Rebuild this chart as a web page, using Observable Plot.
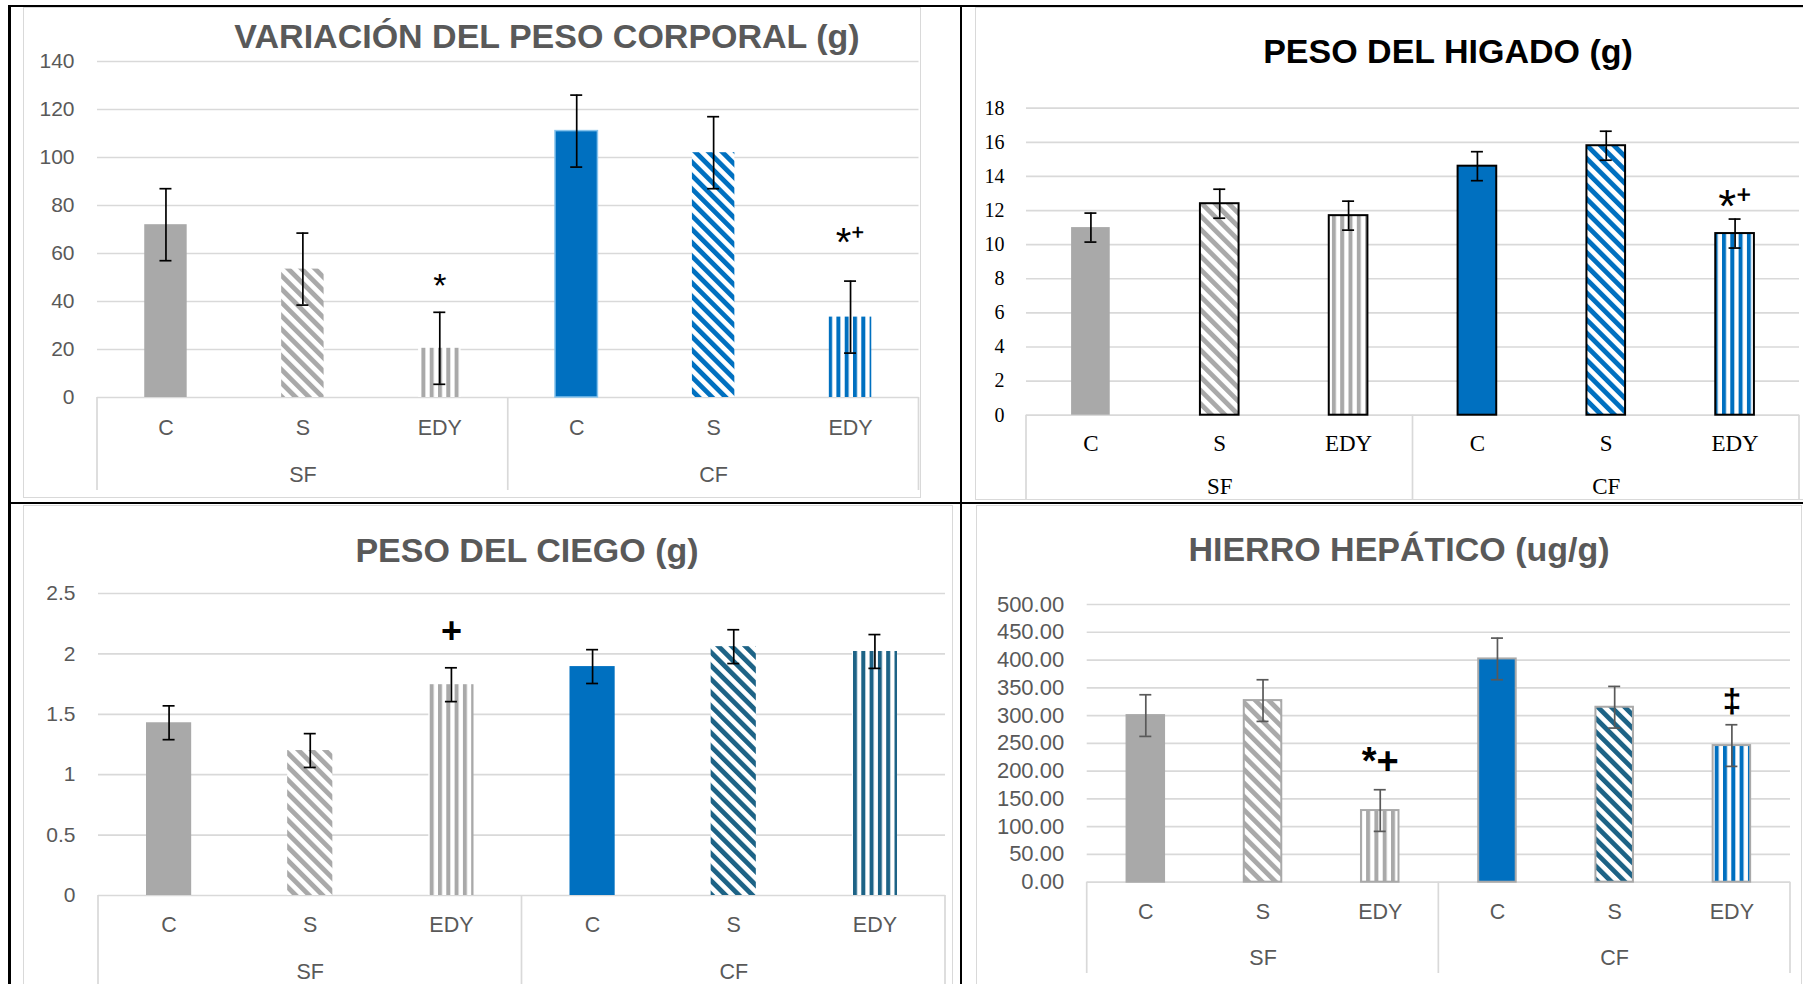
<!DOCTYPE html>
<html><head><meta charset="utf-8">
<script src="https://cdn.jsdelivr.net/npm/d3@7"></script>
<script src="https://cdn.jsdelivr.net/npm/@observablehq/plot@0.6"></script>
<style>
html,body{margin:0;padding:0;background:#fff;}
#root{position:relative;width:1803px;height:984px;overflow:hidden;background:#fff;}
.box{position:absolute;box-sizing:border-box;border:1.5px solid #d9d9d9;}
.line{position:absolute;background:#000;}
.panel{position:absolute;}
.title{position:absolute;font-family:"Liberation Sans",Arial,sans-serif;font-weight:bold;font-size:34px;white-space:nowrap;transform:translate(-50%,-50%);line-height:1;}
</style></head><body><div id="root"></div>
<script>
// ---------- data ----------
const groups = ["SF", "CF"];
const treatments = ["C", "S", "EDY"];

const pesoCorporal    = [72, 53.5, 20.5, 111, 102, 33.5];
const pesoCorporalErr = [15, 15, 15, 15, 15, 15];
const pesoCorporalSig = ["", "", "*", "", "", "*\u207A"];
const pesoCorporalSigLevel = [null, null, 42, null, null, 58.8];
const pesoCorporalTicks = [0, 20, 40, 60, 80, 100, 120, 140];

const pesoHigado    = [11.0, 12.4, 11.7, 14.6, 15.8, 10.65];
const pesoHigadoErr = [0.85, 0.85, 0.85, 0.85, 0.85, 0.85];
const pesoHigadoSig = ["", "", "", "", "", "*\u207A"];
const pesoHigadoSigLevel = [null, null, null, null, null, 11.35];
const pesoHigadoTicks = [0, 2, 4, 6, 8, 10, 12, 14, 16, 18];

const pesoCiego    = [1.43, 1.20, 1.745, 1.895, 2.06, 2.02];
const pesoCiegoErr = [0.14, 0.14, 0.14, 0.14, 0.14, 0.14];
const pesoCiegoSig = ["", "", "+", "", "", ""];
const pesoCiegoSigLevel = [null, null, 2.09, null, null, null];
const pesoCiegoTicks = [0, 0.5, 1, 1.5, 2, 2.5];

const hierroHepatico    = [300, 327, 129, 402, 315, 246];
const hierroHepaticoErr = [37.5, 37.5, 37.5, 37.5, 37.5, 37.5];
const hierroHepaticoSig = ["", "", "*+", "", "", "\u2021"];
const hierroHepaticoSigLevel = [null, null, 195, null, null, 307];
const hierroHepaticoTicks = [0, 50, 100, 150, 200, 250, 300, 350, 400, 450, 500];

// ---------- styles ----------
const GRAY = "#a9a9a9", BLUE = "#0070C0", TEAL = "#1d6386", GRID = "#d9d9d9";
const root = d3.select("#root");

const defs = root.append("svg").attr("width", 0).attr("height", 0)
  .style("position", "absolute").append("defs");
function stripes(id, color, angle, period, width) {
  const p = defs.append("pattern").attr("id", id).attr("patternUnits", "userSpaceOnUse")
    .attr("width", period).attr("height", period);
  if (angle) p.attr("patternTransform", `rotate(${angle})`);
  p.append("rect").attr("width", period).attr("height", period).attr("fill", "#fff");
  p.append("rect").attr("width", width).attr("height", period).attr("fill", color);
}
stripes("diagGray", GRAY, -45, 9.5, 4.8);
stripes("vertGray", GRAY, 0, 8.3, 4);
stripes("diagBlue", BLUE, -45, 9.5, 4.8);
stripes("vertBlue", BLUE, 0, 8.3, 4);
stripes("diagTeal", TEAL, -45, 9.5, 4.8);
stripes("vertTeal", TEAL, 0, 8.3, 4);

// frame lines
function line(l, t, w, h) { root.append("div").attr("class", "line").style("left", l + "px").style("top", t + "px").style("width", w + "px").style("height", h + "px"); }
function box(l, t, w, h) { root.append("div").attr("class", "box").style("left", l + "px").style("top", t + "px").style("width", w + "px").style("height", h + "px"); }
box(22.5, 7, 898, 491);
box(975, 7, 840, 492.5);
box(22.5, 505, 930, 500);
box(976, 505, 826, 500);
line(8, 5, 1795, 2);
line(8, 5, 2.5, 979);
line(960, 5, 2, 979);
line(8, 501.7, 1795, 2);

function panel(cfg) {
  const rows = groups.flatMap((g, gi) => treatments.map((t, ti) => {
    const i = gi * treatments.length + ti;
    return {key: g + "|" + t, group: g, treatment: t, value: cfg.values[i], err: cfg.errors[i], sig: cfg.sig[i], sigLevel: cfg.sigLevel[i], i};
  }));
  const groupRows = groups.map(g => ({group: g, key: g + "|" + treatments[1]}));
  const plotW = cfg.width - cfg.ml - cfg.mr;
  const step = plotW / rows.length;
  const bw = step * (1 - cfg.padding);
  const capInset = (bw - 12) / 2;
  const marks = [
    Plot.ruleY(cfg.ticks, {stroke: GRID, strokeWidth: 1.7}),
    ...rows.map((r, i) => Plot.barY([r], {x: "key", y: "value", fill: cfg.fills[i], stroke: cfg.strokes[i], strokeWidth: cfg.barStrokeWidth})),
    Plot.ruleX(rows, {x: "key", y1: d => d.value - d.err, y2: d => d.value + d.err, stroke: cfg.errColor, strokeWidth: 1.7}),
    Plot.tickY(rows, {x: "key", y: d => d.value - d.err, stroke: cfg.errColor, strokeWidth: 1.7, insetLeft: capInset, insetRight: capInset}),
    Plot.tickY(rows, {x: "key", y: d => d.value + d.err, stroke: cfg.errColor, strokeWidth: 1.7, insetLeft: capInset, insetRight: capInset}),
    Plot.text(rows.filter(d => d.sig), {x: "key", y: "sigLevel", text: "sig", lineAnchor: "bottom", fill: "#000",
      fontSize: d => cfg.sigSizes[d.i], fontWeight: cfg.sigWeight, fontFamily: "'Liberation Sans', Arial, sans-serif"}),
    Plot.axisY({ticks: cfg.ticks, tickSize: 0, tickPadding: cfg.tickPadding, tickFormat: cfg.tickFormat, fontSize: cfg.fontSize}),
    Plot.text(rows, {x: "key", text: "treatment", frameAnchor: "bottom", dy: cfg.catDy, lineAnchor: "middle", fontSize: cfg.catSize}),
    Plot.text(groupRows, {x: "key", text: "group", frameAnchor: "bottom", dy: cfg.groupDy, lineAnchor: "middle", fontSize: cfg.catSize})
  ];
  const svg = Plot.plot({
    width: cfg.width, height: cfg.height,
    marginLeft: cfg.ml, marginRight: cfg.mr, marginTop: cfg.mt, marginBottom: cfg.mb,
    x: {type: "band", domain: rows.map(d => d.key), paddingInner: cfg.padding, paddingOuter: cfg.padding / 2, round: false, axis: null},
    y: {domain: cfg.domain},
    style: {fontFamily: cfg.font, fontSize: cfg.fontSize + "px", color: cfg.textColor, background: "transparent", overflow: "visible"},
    marks
  });
  // category dividers drawn from the library's own scales
  const sx = svg.scale("x"), sy = svg.scale("y");
  const st = sx.step ?? step, bwd = sx.bandwidth ?? bw;
  const half = (st - bwd) / 2;
  const xs = [];
  groups.forEach((g, gi) => xs.push(sx.apply(rows[gi * treatments.length].key) - half));
  xs.push(sx.apply(rows[rows.length - 1].key) + bwd + half);
  const y0 = sy.apply(0);
  d3.select(svg).append("g").selectAll("line").data(xs).join("line")
    .attr("x1", d => d).attr("x2", d => d).attr("y1", y0).attr("y2", cfg.height - cfg.dividerGap)
    .attr("stroke", GRID).attr("stroke-width", 1.7);
  const holder = root.append("div").attr("class", "panel").style("left", cfg.left + "px").style("top", cfg.top + "px");
  holder.node().appendChild(svg);
  root.append("div").attr("class", "title").style("left", cfg.titleX + "px").style("top", cfg.titleY + "px")
    .style("color", cfg.titleColor).text(cfg.title);
}

const SANS = "'Liberation Sans', Arial, sans-serif";

panel({
  title: "VARIACIÓN DEL PESO CORPORAL (g)", titleX: 547, titleY: 36, titleColor: "#595959",
  values: pesoCorporal, errors: pesoCorporalErr, sig: pesoCorporalSig, sigLevel: pesoCorporalSigLevel, ticks: pesoCorporalTicks,
  domain: [0, 140], tickFormat: d => String(d),
  left: 23, top: 7, width: 897, height: 490, ml: 74, mr: 1.5, mt: 54, mb: 100,
  padding: 0.69, tickPadding: 23, catDy: 30.4, groupDy: 77.7, dividerGap: 7,
  fills: [GRAY, "url(#diagGray)", "url(#vertGray)", BLUE, "url(#diagBlue)", "url(#vertBlue)"],
  strokes: ["none", "none", "none", "#86c3ec", "none", "none"], barStrokeWidth: 1.5,
  errColor: "#000", font: SANS, fontSize: 21, catSize: 21.5, textColor: "#595959",
  sigSizes: [0, 0, 34, 0, 0, 40], sigWeight: "normal"
});

panel({
  title: "PESO DEL HIGADO (g)", titleX: 1448, titleY: 50.5, titleColor: "#000",
  values: pesoHigado, errors: pesoHigadoErr, sig: pesoHigadoSig, sigLevel: pesoHigadoSigLevel, ticks: pesoHigadoTicks,
  domain: [0, 18], tickFormat: d => String(d),
  left: 975, top: 7, width: 828, height: 492, ml: 51, mr: 4, mt: 100.7, mb: 84.3,
  padding: 0.70, tickPadding: 22, catDy: 28.5, groupDy: 71.5, dividerGap: 0,
  fills: [GRAY, "url(#diagGray)", "url(#vertGray)", BLUE, "url(#diagBlue)", "url(#vertBlue)"],
  strokes: ["none", "#000", "#000", "#000", "#000", "#000"], barStrokeWidth: 2,
  errColor: "#000", font: "'Liberation Serif', 'Times New Roman', serif", fontSize: 20, catSize: 23, textColor: "#000",
  sigSizes: [0, 0, 0, 0, 0, 46], sigWeight: "normal"
});

panel({
  title: "PESO DEL CIEGO (g)", titleX: 527, titleY: 550, titleColor: "#595959",
  values: pesoCiego, errors: pesoCiegoErr, sig: pesoCiegoSig, sigLevel: pesoCiegoSigLevel, ticks: pesoCiegoTicks,
  domain: [0, 2.5], tickFormat: d => String(d),
  left: 23, top: 505, width: 928, height: 479, ml: 75, mr: 6, mt: 88, mb: 89,
  padding: 0.68, tickPadding: 23, catDy: 30, groupDy: 77, dividerGap: 0,
  fills: [GRAY, "url(#diagGray)", "url(#vertGray)", BLUE, "url(#diagTeal)", "url(#vertTeal)"],
  strokes: ["none", "none", "none", "none", "none", "none"], barStrokeWidth: 0,
  errColor: "#000", font: SANS, fontSize: 21, catSize: 21.5, textColor: "#595959",
  sigSizes: [0, 0, 36, 0, 0, 0], sigWeight: "bold"
});

panel({
  title: "HIERRO HEPÁTICO (ug/g)", titleX: 1399, titleY: 549, titleColor: "#595959",
  values: hierroHepatico, errors: hierroHepaticoErr, sig: hierroHepaticoSig, sigLevel: hierroHepaticoSigLevel, ticks: hierroHepaticoTicks,
  domain: [0, 500], tickFormat: d => d.toFixed(2),
  left: 976, top: 505, width: 825, height: 479, ml: 110.7, mr: 11, mt: 99, mb: 102.3,
  padding: 0.68, tickPadding: 23, catDy: 30.3, groupDy: 76.3, dividerGap: 11,
  fills: [GRAY, "url(#diagGray)", "url(#vertGray)", BLUE, "url(#diagTeal)", "url(#vertBlue)"],
  strokes: [GRAY, GRAY, GRAY, GRAY, GRAY, GRAY], barStrokeWidth: 2,
  errColor: "#595959", font: SANS, fontSize: 22, catSize: 21.5, textColor: "#595959",
  sigSizes: [0, 0, 38, 0, 0, 34], sigWeight: "bold"
});
</script>
</body></html>
